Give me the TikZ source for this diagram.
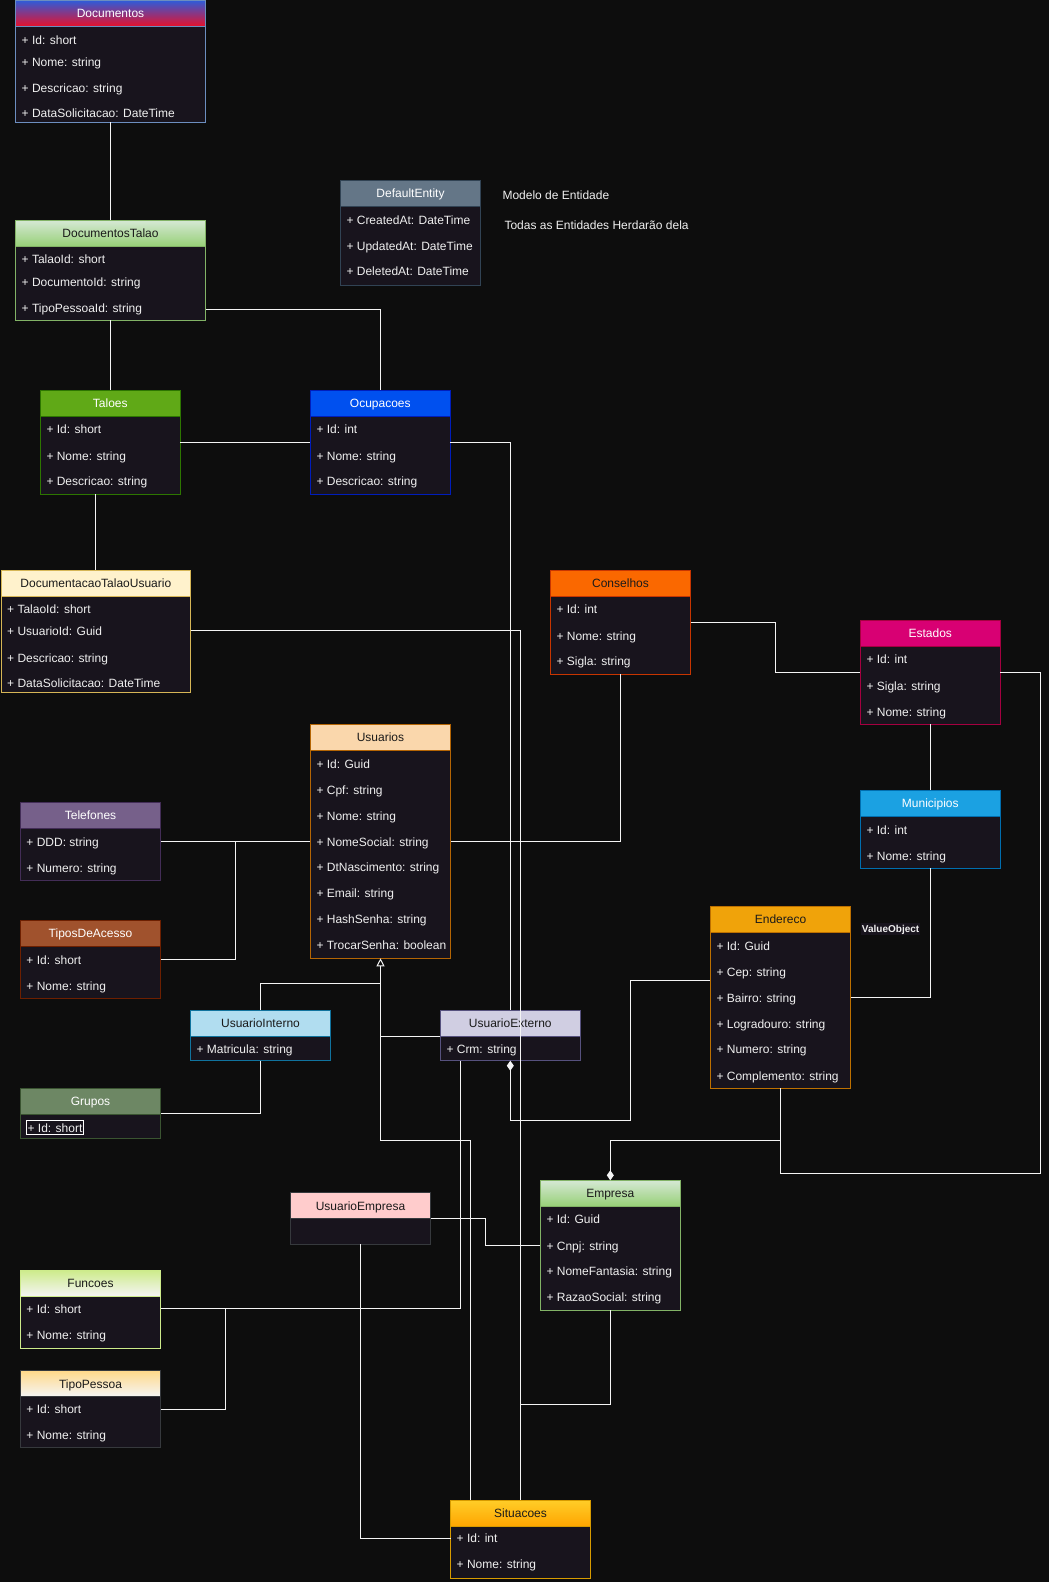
\documentclass[tikz,border=0pt]{standalone}
\usepackage{fontspec}
\setmainfont{Liberation Sans}
\usetikzlibrary{arrows.meta}
\definecolor{bgc}{HTML}{0D0D0D}
\definecolor{bodyc}{HTML}{18141D}
\definecolor{rowc}{HTML}{F0F0F0}
\definecolor{linec}{HTML}{F4F4F4}
\definecolor{darkt}{HTML}{1A1A1A}
\definecolor{docB}{HTML}{6C8EBF}
\definecolor{docT}{HTML}{2F5BD8}
\definecolor{docBo}{HTML}{E8102A}
\definecolor{greenB}{HTML}{82B366}
\definecolor{greenT}{HTML}{D5E8D4}
\definecolor{greenBo}{HTML}{97D077}
\definecolor{defB}{HTML}{314354}
\definecolor{defF}{HTML}{647687}
\definecolor{talB}{HTML}{2D7600}
\definecolor{talF}{HTML}{60A917}
\definecolor{ocuB}{HTML}{001DBC}
\definecolor{ocuF}{HTML}{0050EF}
\definecolor{dtuB}{HTML}{D6B656}
\definecolor{dtuF}{HTML}{FFF2CC}
\definecolor{conB}{HTML}{C73500}
\definecolor{conF}{HTML}{FA6800}
\definecolor{estB}{HTML}{A50040}
\definecolor{estF}{HTML}{D80073}
\definecolor{usuB}{HTML}{B46504}
\definecolor{usuF}{HTML}{FAD7AC}
\definecolor{telB}{HTML}{432D57}
\definecolor{telF}{HTML}{76608A}
\definecolor{tipB}{HTML}{6D1F00}
\definecolor{tipF}{HTML}{A0522D}
\definecolor{munB}{HTML}{006EAF}
\definecolor{munF}{HTML}{1BA1E2}
\definecolor{endB}{HTML}{BD7000}
\definecolor{endF}{HTML}{F0A30A}
\definecolor{uiB}{HTML}{10739E}
\definecolor{uiF}{HTML}{B1DDF0}
\definecolor{ueB}{HTML}{56517E}
\definecolor{ueF}{HTML}{D0CEE2}
\definecolor{grB}{HTML}{3A5431}
\definecolor{grF}{HTML}{6D8764}
\definecolor{ueeB}{HTML}{36393D}
\definecolor{ueeF}{HTML}{FFCCCC}
\definecolor{funB}{HTML}{CDEB8B}
\definecolor{funT}{HTML}{CDEB8B}
\definecolor{funBo}{HTML}{F5F5F5}
\definecolor{tpB}{HTML}{36393D}
\definecolor{tpT}{HTML}{FFD98A}
\definecolor{tpBo}{HTML}{F5F5F5}
\definecolor{sitB}{HTML}{D79B00}
\definecolor{sitT}{HTML}{FFCD28}
\definecolor{sitBo}{HTML}{FFA500}
\tikzset{
  classbody/.style={rectangle, anchor=north west, fill=bodyc, line width=1pt, inner sep=0pt, outer sep=0pt},
  classhead/.style={rectangle, anchor=north west, line width=1pt, inner sep=0pt, outer sep=0pt,
    minimum height=26pt, font=\fontsize{12}{14}\selectfont, text height=8.6pt, text depth=0pt},
  rowtext/.style={anchor=west, inner sep=0pt, text=rowc, font=\fontsize{12}{14}\selectfont,
    text height=8.6pt, text depth=0pt},
  plaintext/.style={anchor=west, inner sep=0pt, text=rowc, font=\fontsize{12}{14}\selectfont,
    text height=8.6pt, text depth=0pt},
  conn/.style={draw=linec, line width=1pt},
}
% #1 name, #2 x, #3 y, #4 width, #5 height, #6 border colour, #7 header options, #8 title
\newcommand\klass[8]{%
  \node[classbody, draw=#6, minimum width=#4pt, minimum height=#5pt] (#1) at (#2,#3) {};
  \node[classhead, draw=#6, #7, minimum width=#4pt] (#1-h) at (#2,#3) {#8};
}
\newcommand\rw[4]{\node[rowtext] (#1) at (#2,#3) {#4};}
\begin{document}
\begin{tikzpicture}[x=1pt,y=-1pt]
\useasboundingbox (0,0) rectangle (1049,1582);
\fill[bgc] (0,0) rectangle (1049,1582);

% ---------- classes ----------
\klass{Documentos}{15.5}{0.5}{190}{121.5}{docB}{top color=docT, bottom color=docBo, text=white}{Documentos}
\rw{Documentos-1}{21.5}{39.7}{+ Id: short}
\rw{Documentos-2}{21.5}{61.7}{+ Nome: string}
\rw{Documentos-3}{21.5}{87.7}{+ Descricao: string}
\rw{Documentos-4}{21.5}{113.3}{+ DataSolicitacao: DateTime}

\klass{DocumentosTalao}{15.5}{220.3}{190}{100}{greenB}{top color=greenT, bottom color=greenBo, text=darkt}{DocumentosTalao}
\rw{DocumentosTalao-1}{21.5}{259.3}{+ TalaoId: short}
\rw{DocumentosTalao-2}{21.5}{281.7}{+ DocumentoId: string}
\rw{DocumentosTalao-3}{21.5}{307.7}{+ TipoPessoaId: string}

\klass{DefaultEntity}{340.3}{180.3}{140.4}{104.7}{defB}{fill=defF, text=white}{DefaultEntity}
\rw{DefaultEntity-1}{346.3}{220}{+ CreatedAt: DateTime}
\rw{DefaultEntity-2}{346.3}{246}{+ UpdatedAt: DateTime}
\rw{DefaultEntity-3}{346.3}{271}{+ DeletedAt: DateTime}
\node[plaintext] (modelo) at (502.3,195) {Modelo de Entidade};
\node[plaintext] (todas) at (504.3,225) {Todas as Entidades Herdarão dela};

\klass{Taloes}{40.3}{390.3}{140}{103.7}{talB}{fill=talF, text=white}{Taloes}
\rw{Taloes-1}{46.3}{429.3}{+ Id: short}
\rw{Taloes-2}{46.3}{455.7}{+ Nome: string}
\rw{Taloes-3}{46.3}{481}{+ Descricao: string}

\klass{Ocupacoes}{310.3}{390.3}{140}{103.7}{ocuB}{fill=ocuF, text=white}{Ocupacoes}
\rw{Ocupacoes-1}{316.3}{429.3}{+ Id: int}
\rw{Ocupacoes-2}{316.3}{455.7}{+ Nome: string}
\rw{Ocupacoes-3}{316.3}{481}{+ Descricao: string}

\klass{DTU}{1}{570.3}{189.7}{122.4}{dtuB}{fill=dtuF, text=darkt}{DocumentacaoTalaoUsuario}
\rw{DTU-1}{7}{609.3}{+ TalaoId: short}
\rw{DTU-2}{7}{631}{+ UsuarioId: Guid}
\rw{DTU-3}{7}{657.7}{+ Descricao: string}
\rw{DTU-4}{7}{683.3}{+ DataSolicitacao: DateTime}

\klass{Conselhos}{550.3}{570.3}{140.4}{104}{conB}{fill=conF, text=darkt}{Conselhos}
\rw{Conselhos-1}{556.3}{609.3}{+ Id: int}
\rw{Conselhos-2}{556.3}{635.7}{+ Nome: string}
\rw{Conselhos-3}{556.3}{661}{+ Sigla: string}

\klass{Estados}{860.3}{620.3}{140}{104}{estB}{fill=estF, text=white}{Estados}
\rw{Estados-1}{866.3}{659.3}{+ Id: int}
\rw{Estados-2}{866.3}{685.7}{+ Sigla: string}
\rw{Estados-3}{866.3}{711.7}{+ Nome: string}

\klass{Usuarios}{310.3}{724.3}{140.4}{234}{usuB}{fill=usuF, text=darkt}{Usuarios}
\rw{Usuarios-1}{316.3}{764}{+ Id: Guid}
\rw{Usuarios-2}{316.3}{790}{+ Cpf: string}
\rw{Usuarios-3}{316.3}{815.7}{+ Nome: string}
\rw{Usuarios-4}{316.3}{841.7}{+ NomeSocial: string}
\rw{Usuarios-5}{316.3}{867.3}{+ DtNascimento: string}
\rw{Usuarios-6}{316.3}{893}{+ Email: string}
\rw{Usuarios-7}{316.3}{919}{+ HashSenha: string}
\rw{Usuarios-8}{316.3}{945}{+ TrocarSenha: boolean}

\klass{Telefones}{20.3}{802.3}{140.4}{78}{telB}{fill=telF, text=white}{Telefones}
\rw{Telefones-1}{26.3}{841.7}{+ DDD: string}
\rw{Telefones-2}{26.3}{867.7}{+ Numero: string}

\klass{TiposDeAcesso}{20.3}{920.3}{140.4}{78}{tipB}{fill=tipF, text=white}{TiposDeAcesso}
\rw{TiposDeAcesso-1}{26.3}{959.7}{+ Id: short}
\rw{TiposDeAcesso-2}{26.3}{985.7}{+ Nome: string}

\klass{Municipios}{860.3}{790.3}{140}{78}{munB}{fill=munF, text=white}{Municipios}
\rw{Municipios-1}{866.3}{829.7}{+ Id: int}
\rw{Municipios-2}{866.3}{855.7}{+ Nome: string}

\klass{Endereco}{710.3}{906.3}{140.4}{182}{endB}{fill=endF, text=darkt}{Endereco}
\rw{Endereco-1}{716.3}{945.7}{+ Id: Guid}
\rw{Endereco-2}{716.3}{971.7}{+ Cep: string}
\rw{Endereco-3}{716.3}{997.7}{+ Bairro: string}
\rw{Endereco-4}{716.3}{1023.7}{+ Logradouro: string}
\rw{Endereco-5}{716.3}{1049.3}{+ Numero: string}
\rw{Endereco-6}{716.3}{1075.7}{+ Complemento: string}
\node[fill=bodyc, text=rowc, inner xsep=1pt, inner ysep=2pt, font=\fontsize{10}{12}\selectfont\bfseries,
  text height=7.5pt, text depth=0pt] (valueobject) at (890.6,929) {ValueObject};

\klass{UsuarioInterno}{190.3}{1010.3}{140.4}{50.4}{uiB}{fill=uiF, text=darkt}{UsuarioInterno}
\rw{UsuarioInterno-1}{196.3}{1049}{+ Matricula: string}

\klass{UsuarioExterno}{440.3}{1010.3}{140}{50.4}{ueB}{fill=ueF, text=darkt}{UsuarioExterno}
\rw{UsuarioExterno-1}{446.3}{1049}{+ Crm: string}

\klass{Grupos}{20.3}{1088.3}{140.4}{50}{grB}{fill=grF, text=white}{Grupos}
\node[rowtext, draw=white, line width=0.8pt, inner xsep=1pt, inner ysep=2.6pt] (Grupos-1) at (26.2,1127.7) {+ Id: short};

\klass{UsuarioEmpresa}{290.3}{1192.7}{140.4}{51.6}{ueeB}{fill=ueeF, text=darkt}{UsuarioEmpresa}

\klass{Empresa}{540.3}{1180.3}{140}{130}{greenB}{top color=greenT, bottom color=greenBo, text=darkt}{Empresa}
\rw{Empresa-1}{546.3}{1219.3}{+ Id: Guid}
\rw{Empresa-2}{546.3}{1245.7}{+ Cnpj: string}
\rw{Empresa-3}{546.3}{1271}{+ NomeFantasia: string}
\rw{Empresa-4}{546.3}{1297.3}{+ RazaoSocial: string}

\klass{Funcoes}{20.3}{1270.3}{140.4}{78}{funB}{top color=funT, bottom color=funBo, text=darkt}{Funcoes}
\rw{Funcoes-1}{26.3}{1309.3}{+ Id: short}
\rw{Funcoes-2}{26.3}{1335.3}{+ Nome: string}

\klass{TipoPessoa}{20.3}{1370.7}{140.4}{77}{tpB}{top color=tpT, bottom color=tpBo, text=darkt}{TipoPessoa}
\rw{TipoPessoa-1}{26.3}{1409.3}{+ Id: short}
\rw{TipoPessoa-2}{26.3}{1435.3}{+ Nome: string}

\klass{Situacoes}{450.5}{1500.3}{140}{78}{sitB}{top color=sitT, bottom color=sitBo, text=darkt}{Situacoes}
\rw{Situacoes-1}{456.5}{1538.3}{+ Id: int}
\rw{Situacoes-2}{456.5}{1564.5}{+ Nome: string}

% ---------- connectors ----------
\draw[conn] (Documentos.south) -- (Documentos.south |- DocumentosTalao.north);
\draw[conn] (DocumentosTalao.south) -- (DocumentosTalao.south |- Taloes.north);
\draw[conn] (DocumentosTalao.east |- 0,309) -| (Ocupacoes.north);
\draw[conn] (DTU.north |- Taloes.south) -- (DTU.north);
\draw[conn] (Taloes.east |- 0,442.3) -- (Ocupacoes.west |- 0,442.3);
\draw[conn] (Ocupacoes.east |- 0,442.3) -| (UsuarioExterno.north);
\draw[conn] (DTU.east |- 0,630.7) -| (520.3,0 |- Situacoes.north);
\draw[conn] (Conselhos.south) |- (Usuarios.east |- 0,841.7);
\draw[conn] (Conselhos.east |- 0,622.3) -| (775.7,647) |- (Estados.west |- 0,672.3);
\draw[conn] (Estados.south) -- (Estados.south |- Municipios.north);
\draw[conn] (Municipios.south) |- (Endereco.east |- 0,997.3);
\draw[conn] (Telefones.east |- 0,841.7) -- (Usuarios.west |- 0,841.7);
\draw[conn] (TiposDeAcesso.east |- 0,959.3) -| (235,841.7);
\coordinate (inhJ) at (380.5,983.5);
\draw[conn, -{Triangle[open, length=8pt, width=8pt]}] (UsuarioInterno.north) |- (inhJ) -- (Usuarios.south);
\draw[conn] (UsuarioExterno.west |- 0,1036.3) -- (inhJ |- 0,1036.3);
\draw[conn] (inhJ) -- (380.5,1140) -| (470.3,0 |- Situacoes.north);
\draw[conn] (UsuarioInterno.south) |- (Grupos.east |- 0,1113);
\draw[conn, {Diamond[length=10pt, width=7pt]}-] (UsuarioExterno.south) -- (510.3,1120.3) -| (630.4,980.3) -- (Endereco.west |- 0,980.3);
\draw[conn, {Diamond[length=10pt, width=7pt]}-] (Empresa.north) |- (Endereco.south |- 0,1140) -- (Endereco.south);
\draw[conn] (Estados.east |- 0,672.3) -| (1040,1173.3) -| (Endereco.south);
\draw[conn] (UsuarioEmpresa.east |- 0,1218.3) -| (485.3,1231) |- (Empresa.west |- 0,1245.3);
\draw[conn] (UsuarioEmpresa.south) |- (Situacoes.west |- 0,1538.3);
\draw[conn] (Funcoes.east |- 0,1308.7) -| (460.3,0 |- UsuarioExterno.south);
\draw[conn] (TipoPessoa.east |- 0,1409.3) -| (225,1308.7);
\draw[conn] (Empresa.south) |- (520.3,1404);
\end{tikzpicture}
\end{document}
